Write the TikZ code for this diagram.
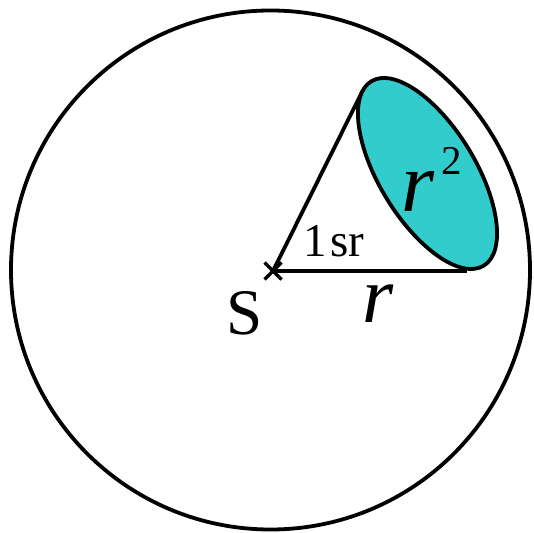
\documentclass[tikz,border=0pt]{standalone}
\usepackage{fontspec}
\setmainfont{Liberation Serif}
\definecolor{diskfill}{RGB}{51,204,204}
\begin{document}
\begin{tikzpicture}[x=1pt,y=1pt,line width=3.8pt,
  lbl/.style={anchor=base west,inner sep=0pt,outer sep=0pt}]
\useasboundingbox (0,0) rectangle (534,532);
\coordinate (O) at (270.5,262);
\coordinate (S) at (273,261);
\coordinate (T) at (363,442);
\coordinate (B) at (467,261);
\coordinate (C) at (427.5,358.5);
\draw (O) circle [radius=259.5];
\draw (S) -- (T);
\draw (S) -- (B);
\draw[fill=diskfill, rotate around={-58.6:(C)}] (C) ellipse [x radius=108, y radius=47.9];
\draw[line width=3.4pt] ([shift={(-8.5,-8.5)}]S) -- ([shift={(8.5,8.5)}]S);
\draw[line width=3.4pt] ([shift={(-8.5,8.5)}]S) -- ([shift={(8.5,-8.5)}]S);
\node[lbl,font=\fontsize{65}{65}\selectfont] (Slabel) at (226,197) {S};
\node[lbl,font=\fontsize{80}{80}\selectfont\itshape] (rlabel) at (362,209) {r};
\node[lbl,font=\fontsize{85}{85}\selectfont\itshape] (rsq) at (401,320) {r};
\node[lbl,font=\fontsize{41}{41}\selectfont] (two) at (441,357) {2};
\node[lbl,font=\fontsize{47}{47}\selectfont] (sr) at (303,275) {1\kern4pt sr};
\end{tikzpicture}
\end{document}
